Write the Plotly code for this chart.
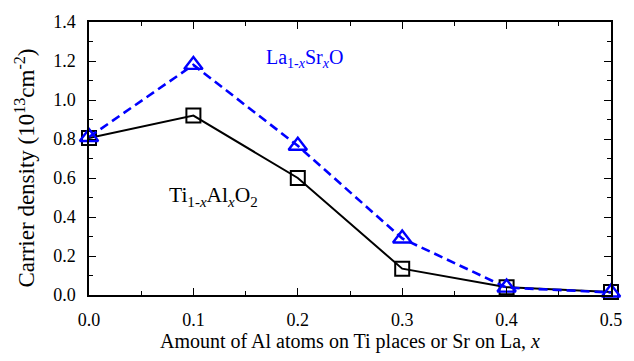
import plotly.graph_objects as go

# Substitution fraction x
x_vals = [0.0, 0.1, 0.2, 0.3, 0.4, 0.5]
# Carrier density (1e13 cm^-2)
tialo2 = [0.805, 0.92, 0.60, 0.135, 0.04, 0.015]
lasro = [0.81, 1.18, 0.765, 0.29, 0.038, 0.013]

x_ticks = [0.0, 0.1, 0.2, 0.3, 0.4, 0.5]
x_tick_text = ["0.0", "0.1", "0.2", "0.3", "0.4", "0.5"]
y_ticks = [0.0, 0.2, 0.4, 0.6, 0.8, 1.0, 1.2, 1.4]
y_tick_text = ["0.0", "0.2", "0.4", "0.6", "0.8", "1.0", "1.2", "1.4"]

font_family = "Liberation Serif"
blue = "#0000ff"

fig = go.Figure()
fig.add_trace(go.Scatter(
    x=x_vals, y=tialo2, mode="lines+markers",
    line=dict(color="black", width=2),
    marker=dict(symbol="square-open", size=14, color="black", line=dict(width=2)),
    cliponaxis=False, showlegend=False,
))
fig.add_trace(go.Scatter(
    x=x_vals, y=lasro, mode="lines+markers",
    line=dict(color=blue, width=2.6, dash="9px,5px"),
    marker=dict(symbol="triangle-up-open", size=16, color=blue, line=dict(width=2.4)),
    cliponaxis=False, showlegend=False,
))

# Series labels inside the plot
fig.add_annotation(
    x=0.206, y=1.215, xref="x", yref="y", xanchor="center", yanchor="middle",
    text="La<sub>1-<i>x</i></sub>Sr<sub><i>x</i></sub>O", showarrow=False,
    font=dict(size=20, color=blue),
)
fig.add_annotation(
    x=0.119, y=0.505, xref="x", yref="y", xanchor="center", yanchor="middle",
    text="Ti<sub>1-<i>x</i></sub>Al<sub><i>x</i></sub>O<sub>2</sub>", showarrow=False,
    font=dict(size=21.5, color="black"),
)

# Y-axis title, placed as rotated text left of the tick labels
fig.add_annotation(
    x=0, y=0.5, xref="paper", yref="paper", xanchor="center", yanchor="middle",
    xshift=-64, yshift=-10, textangle=-90,
    text="Carrier density (10<sup>13</sup>cm<sup>-2</sup>)", showarrow=False,
    font=dict(size=23, color="black"),
)

axis_common = dict(
    showgrid=False, zeroline=False, showline=True, linecolor="black", linewidth=1.5,
    mirror="ticks", ticks="inside", ticklen=7, tickcolor="black", tickwidth=1.2,
    tickfont=dict(size=18, color="black"), ticklabelstandoff=8,
)

fig.update_xaxes(
    range=[0, 0.5], tickvals=x_ticks, ticktext=x_tick_text,
    minor=dict(ticks="inside", ticklen=4, dtick=0.05, tickcolor="black", tickwidth=1.2),
    title=dict(text="Amount of Al atoms on Ti places or Sr on La, <i>x</i>",
               font=dict(size=20, color="black"), standoff=5),
    **axis_common,
)
fig.update_yaxes(
    range=[0, 1.4], tickvals=y_ticks, ticktext=y_tick_text,
    minor=dict(ticks="inside", ticklen=4, dtick=0.1, tickcolor="black", tickwidth=1.2),
    **axis_common,
)

fig.update_layout(
    width=634, height=361,
    margin=dict(l=89, r=14, t=16, b=62),
    paper_bgcolor="white", plot_bgcolor="white",
    font=dict(family=font_family, color="black"),
)

fig.write_html("out.html")
